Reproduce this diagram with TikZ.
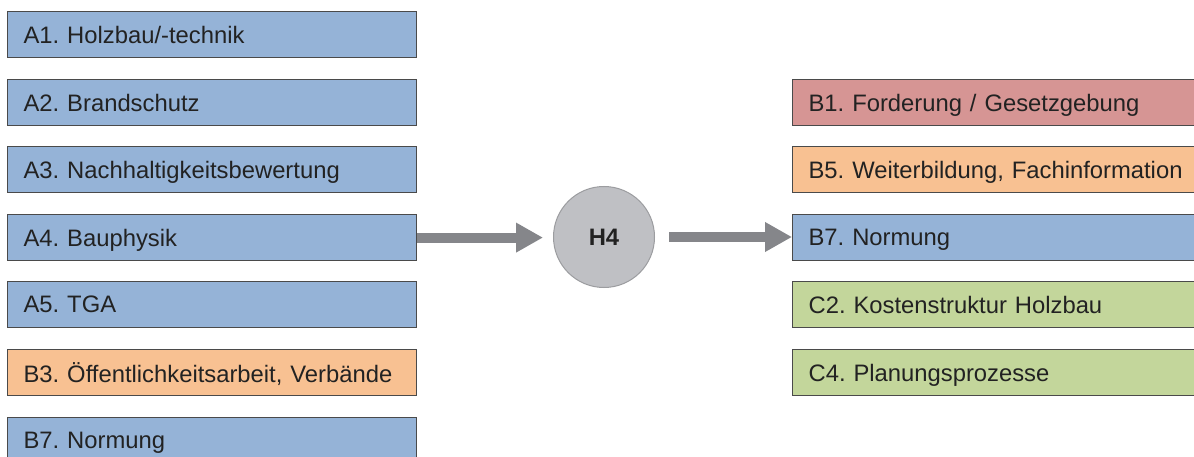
\documentclass[tikz,border=0pt]{standalone}
\usepackage{fontspec}
\setmainfont{Liberation Sans}
\usetikzlibrary{arrows.meta}
\definecolor{cblue}{HTML}{95B3D7}
\definecolor{cred}{HTML}{D69594}
\definecolor{corange}{HTML}{F8C192}
\definecolor{cgreen}{HTML}{C3D69B}
\definecolor{cedge}{HTML}{4A4A4A}
\definecolor{ctext}{HTML}{222222}
\definecolor{carrow}{HTML}{85868A}
\definecolor{ccircle}{HTML}{BFC0C4}
\definecolor{ccircleedge}{HTML}{9C9DA0}
\frenchspacing
\begin{document}
\begin{tikzpicture}[x=1pt,y=-1pt,
  box/.style={draw=cedge, line width=1.2pt, anchor=north west, minimum height=46pt,
    inner xsep=16pt, inner ysep=0pt, text=ctext, align=left,
    font=\fontsize{23.8}{26}\selectfont, text depth=0pt},
  lbox/.style={box, minimum width=409pt, text width=377pt},
  rbox/.style={box, minimum width=430pt, text width=398pt},
  flow/.style={draw=carrow, line width=10pt, -{Triangle[length=27pt,width=28pt]}}
]
\clip (0,0) rectangle (1194,457);
\useasboundingbox (0,0) rectangle (1194,457);
\fill[white] (0,0) rectangle (1194,457);
\node[lbox, fill=cblue] (a1) at (7,11) {A1. Holzbau/-technik};
\node[lbox, fill=cblue] (a2) at (7,79) {A2. Brandschutz};
\node[lbox, fill=cblue] (a3) at (7,146) {A3. Nachhaltigkeitsbewertung};
\node[lbox, fill=cblue] (a4) at (7,214) {A4. Bauphysik};
\node[lbox, fill=cblue] (a5) at (7,281) {A5. TGA};
\node[lbox, fill=corange] (b3) at (7,349) {B3. Öffentlichkeitsarbeit, Verbände};
\node[lbox, fill=cblue] (b7l) at (7,417) {B7. Normung};
\node[rbox, fill=cred] (b1) at (792,79) {B1. Forderung / Gesetzgebung};
\node[rbox, fill=corange] (b5) at (792,146) {B5. Weiterbildung, Fachinformation};
\node[rbox, fill=cblue] (b7r) at (792,214) {B7. Normung};
\node[rbox, fill=cgreen] (c2) at (792,281) {C2. Kostenstruktur Holzbau};
\node[rbox, fill=cgreen] (c4) at (792,349) {C4. Planungsprozesse};
\node[circle, draw=ccircleedge, line width=1pt, fill=ccircle, minimum size=101pt,
  inner sep=0pt, text=ctext, font=\fontsize{23.8}{26}\selectfont\bfseries] (h4) at (604,237) {H4};
\draw[flow, shorten >=10pt] (a4.east) -- (a4.east -| h4.west);
\draw[flow, shorten <=14pt] (h4.east) -- (h4.east -| b7r.west);
\end{tikzpicture}
\end{document}
